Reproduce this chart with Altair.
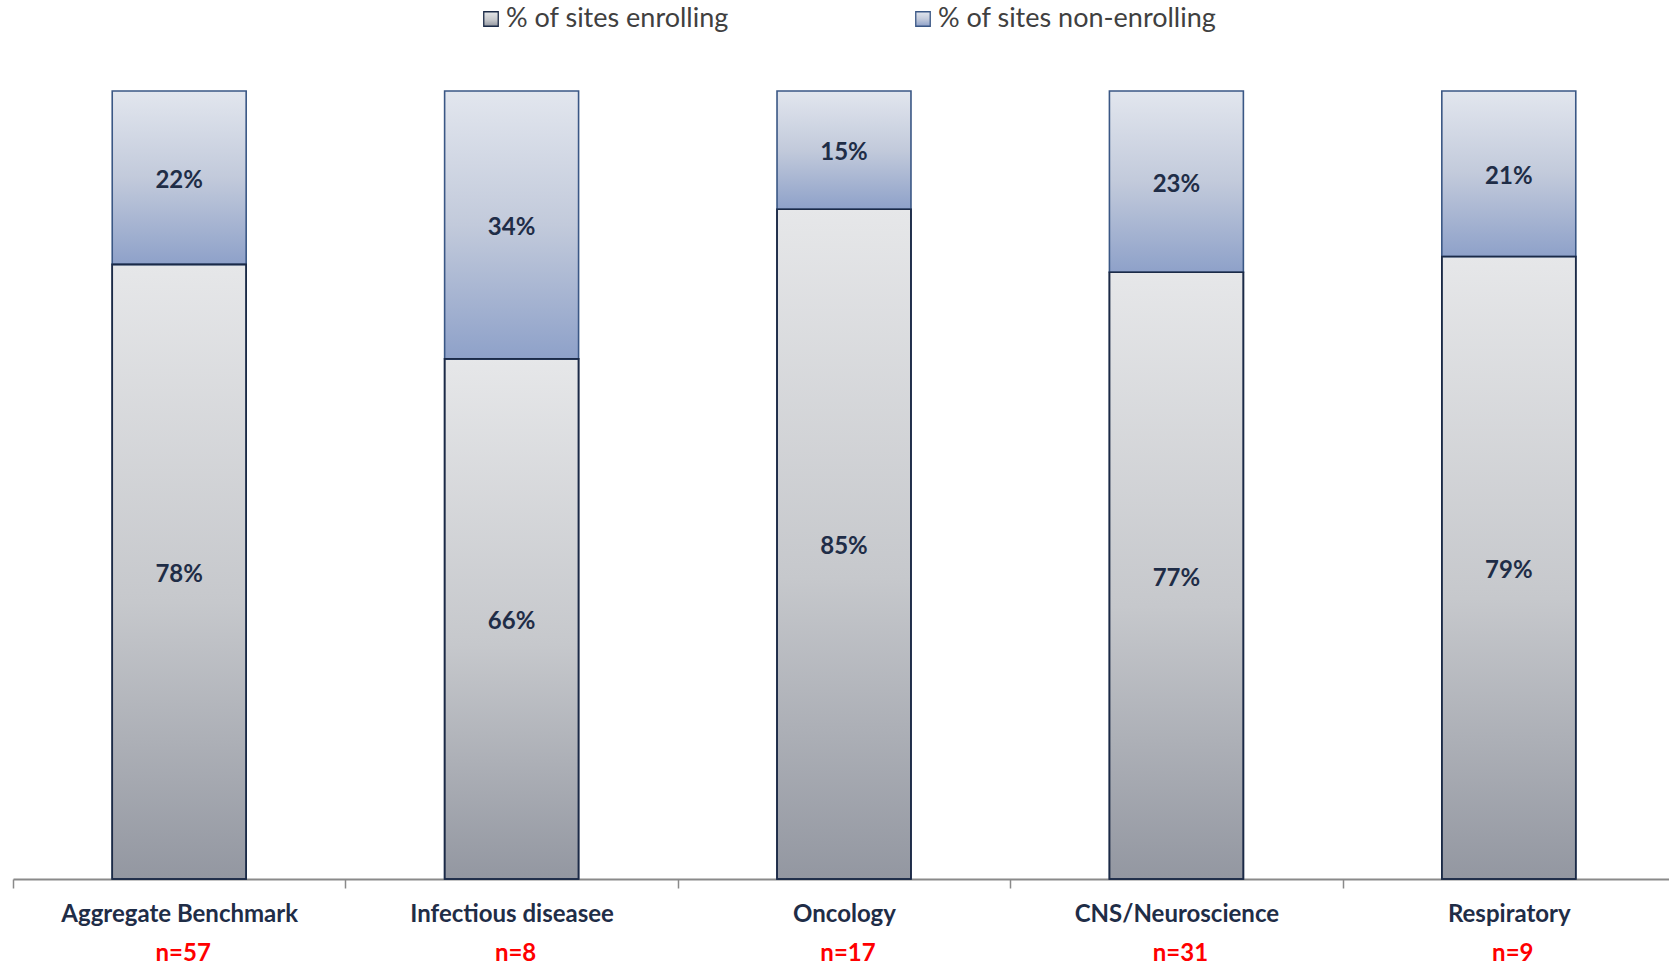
import altair as alt
import pandas as pd

# Share of sites enrolling vs non-enrolling, by therapeutic area
categories = ["Aggregate Benchmark", "Infectious diseasee", "Oncology", "CNS/Neuroscience", "Respiratory"]
enrolling = [78, 66, 85, 77, 79]
non_enrolling = [22, 34, 15, 23, 21]
n_sites = [57, 8, 17, 31, 9]

legend_labels = ["% of sites enrolling", "% of sites non-enrolling"]

df = pd.DataFrame({
    "category": categories,
    "enrolling": enrolling,
    "non_enrolling": non_enrolling,
    "n": n_sites,
})

W, H = 1656, 788
X_RANGE = 1662  # band range runs slightly past the right edge
STEP = X_RANGE / len(categories)
NAVY = "#1f2d47"
FONT = "Lato"

grey_grad = alt.Gradient(
    gradient="linear",
    stops=[alt.GradientStop(color="#e6e7e9", offset=0),
           alt.GradientStop(color="#c6c8cc", offset=0.55),
           alt.GradientStop(color="#9397a1", offset=1)],
    x1=0, x2=0, y1=0, y2=1,
)
blue_grad = alt.Gradient(
    gradient="linear",
    stops=[alt.GradientStop(color="#e2e6ee", offset=0),
           alt.GradientStop(color="#c2cadb", offset=0.5),
           alt.GradientStop(color="#8ea1c9", offset=1)],
    x1=0, x2=0, y1=0, y2=1,
)

x_enc = alt.X(
    "category:N",
    sort=categories,
    title=None,
    scale=alt.Scale(paddingInner=0.597, paddingOuter=0.2985, range=[0, X_RANGE]),
    axis=alt.Axis(
        labelAngle=0,
        labelFont=FONT,
        labelFontWeight="bold",
        labelFontSize=24,
        labelColor=NAVY,
        labelBaseline="middle",
        labelPadding=26,
        labelLimit=0,
        # ticks sit between categories, labels stay centred
        tickOffset=-STEP / 2,
        labelOffset=STEP / 2,
        tickSize=9,
        tickColor="#8a8a8a",
        tickWidth=1.5,
        domainColor="#8a8a8a",
        domainWidth=2,
    ),
)
y_scale = alt.Scale(domain=[0, 100], nice=False, zero=True)

base = alt.Chart(df).transform_calculate(
    total="datum.enrolling + datum.non_enrolling",
    mid_enr="datum.enrolling / 2",
    mid_non="datum.enrolling + datum.non_enrolling / 2",
    lbl_enr="datum.enrolling + '%'",
    lbl_non="datum.non_enrolling + '%'",
    lbl_n="'n=' + datum.n",
)

bar_enr = base.mark_bar(fill=grey_grad, stroke="#1b2a47", strokeWidth=1.6).encode(
    x=x_enc,
    y=alt.Y("enrolling:Q", scale=y_scale, axis=None),
    y2=alt.datum(0),
)
bar_non = base.mark_bar(fill=blue_grad, stroke="#3a5785", strokeWidth=1.6).encode(
    x=x_enc,
    y=alt.Y("total:Q", scale=y_scale, axis=None),
    y2="enrolling:Q",
)
# redraw the dividing edge in the darker navy
divider = base.mark_bar(fill="transparent", stroke="#1b2a47", strokeWidth=1.6).encode(
    x=x_enc,
    y=alt.Y("enrolling:Q", scale=y_scale, axis=None),
    y2=alt.datum(0),
)

txt_style = dict(font=FONT, fontWeight="bold", fontSize=24, color=NAVY, baseline="middle", dy=3)
txt_enr = base.mark_text(**txt_style).encode(
    x=x_enc, y=alt.Y("mid_enr:Q", scale=y_scale, axis=None), text="lbl_enr:N"
)
txt_non = base.mark_text(**txt_style).encode(
    x=x_enc, y=alt.Y("mid_non:Q", scale=y_scale, axis=None), text="lbl_non:N"
)
txt_n = base.mark_text(font=FONT, fontWeight="bold", fontSize=24, color="#ff0000",
                       baseline="middle", dx=4).encode(
    x=x_enc, y=alt.value(H + 75), text="lbl_n:N"
)

# legend drawn above the plot
leg_df = pd.DataFrame({"label": legend_labels})
leg_sq1 = alt.Chart(leg_df).transform_filter(alt.datum.label == legend_labels[0]).mark_square(
    size=210, fill=grey_grad, stroke="#1b2a47", strokeWidth=1.3, opacity=1
).encode(x=alt.value(478), y=alt.value(-72))
leg_sq2 = alt.Chart(leg_df).transform_filter(alt.datum.label == legend_labels[1]).mark_square(
    size=210, fill=blue_grad, stroke="#3a5785", strokeWidth=1.3, opacity=1
).encode(x=alt.value(910), y=alt.value(-72))
leg_txt1 = alt.Chart(leg_df).transform_filter(alt.datum.label == legend_labels[0]).mark_text(
    font=FONT, fontSize=27, color="#404040", align="left", baseline="middle"
).encode(x=alt.value(493), y=alt.value(-72), text="label:N")
leg_txt2 = alt.Chart(leg_df).transform_filter(alt.datum.label == legend_labels[1]).mark_text(
    font=FONT, fontSize=27, color="#404040", align="left", baseline="middle"
).encode(x=alt.value(925), y=alt.value(-72), text="label:N")

chart = alt.layer(
    bar_enr, bar_non, divider, txt_enr, txt_non, txt_n,
    leg_sq1, leg_sq2, leg_txt1, leg_txt2,
).properties(
    width=W, height=H,
    autosize=alt.AutoSizeParams(type="none"),
    padding={"left": 13, "top": 91, "right": 0, "bottom": 87},
).configure(
    background="white",
).configure_view(strokeWidth=0)

chart.save("out.html", embed_options={"renderer": "svg", "actions": False})
